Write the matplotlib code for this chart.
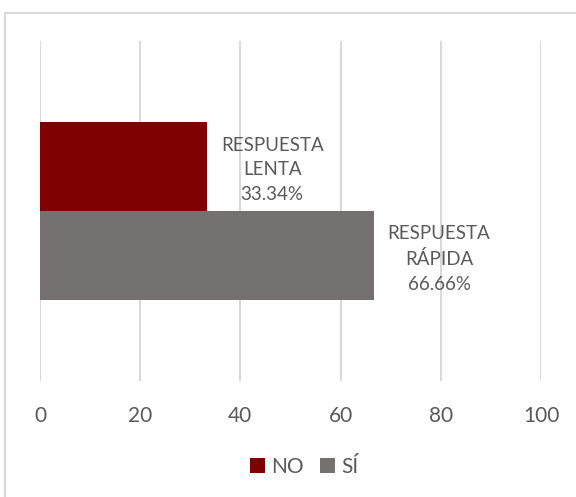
import matplotlib
matplotlib.use("Agg")
import matplotlib.pyplot as plt
from matplotlib.patches import Rectangle

plt.rcParams['font.family'] = ['Lato', 'DejaVu Sans']

# data
series = ["NO", "SÍ"]
values = [33.34, 66.66]
bar_labels = ["RESPUESTA\nLENTA\n33.34%", "RESPUESTA\nRÁPIDA\n66.66%"]
colors = ["#7F0000", "#767171"]
xticks = [0, 20, 40, 60, 80, 100]

text_color = "#595959"
grid_color = "#D9D9D9"

fig = plt.figure(figsize=(5.76, 4.97), dpi=100)
ax = fig.add_axes([40 / 576, 1 - 381 / 497, 501 / 576, 340 / 497])

h = 0.262
offsets = [h / 2, -h / 2]
for name, v, lab, c, off in zip(series, values, bar_labels, colors, offsets):
    ax.barh(off, v, height=h, color=c, label=name, zorder=2)
    ax.text(v + 13, off - 0.01, lab, ha="center", va="center",
            fontsize=13.5, color=text_color, linespacing=1.55)

ax.set_xlim(0, 100)
ax.set_ylim(-0.5, 0.5)
ax.set_xticks(xticks)
ax.set_xticklabels([str(t) for t in xticks], fontsize=15, color=text_color)
ax.set_yticks([])
ax.tick_params(axis="x", length=0, pad=18)
ax.grid(axis="x", color=grid_color, linewidth=1.5, zorder=0)
for s in ax.spines.values():
    s.set_visible(False)

fig.legend(loc="center", bbox_to_anchor=(304 / 576, 1 - 467 / 497), ncol=2,
           frameon=False, fontsize=15, handlelength=0.7, handleheight=0.7,
           handletextpad=0.3, columnspacing=0.8, labelcolor=text_color)

# outer chart border
fig.patches.append(Rectangle((5 / 576, -0.1), 1.2, 1.1 - 12.5 / 497,
                             transform=fig.transFigure, fill=False,
                             edgecolor=grid_color, linewidth=1.5))

fig.savefig("out.png", dpi=100)
